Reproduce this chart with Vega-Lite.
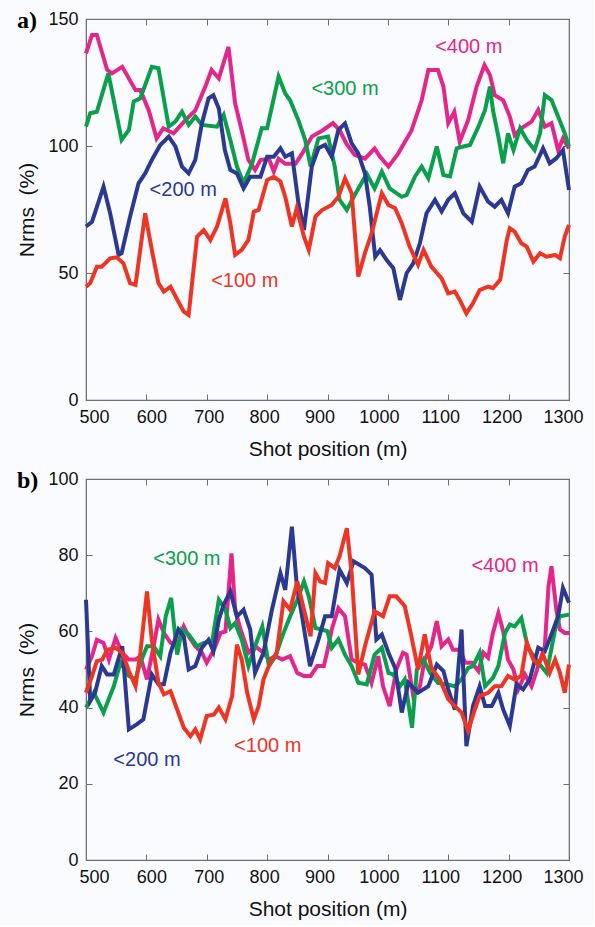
{
  "$schema": "https://vega.github.io/schema/vega-lite/v6.json",
  "background": "#fafbfe",
  "padding": {"left": 16, "top": 8, "right": 10, "bottom": 5},
  "config": {
    "view": {"stroke": "#707070", "strokeWidth": 1.2},
    "axis": {"grid": false, "labelFont": "Liberation Sans", "labelFontSize": 18, "labelColor": "#111111", "titleFont": "Liberation Sans", "titleFontSize": 21, "titleFontWeight": "normal", "titleColor": "#111111", "domainColor": "#707070", "tickColor": "#707070", "tickSize": -6, "labelPadding": 14, "labelOverlap": false, "labelFlush": false, "format": "d"},
    "text": {"font": "Liberation Sans", "fontSize": 20}
  },
  "datasets": {
    "a": [
      {"s":"<400 m","x":500,"y":136.5},{"s":"<400 m","x":510,"y":143.7},{"s":"<400 m","x":518,"y":143.7},{"s":"<400 m","x":535,"y":130},{"s":"<400 m","x":543,"y":128.6},{"s":"<400 m","x":560,"y":131.2},{"s":"<400 m","x":582,"y":122},{"s":"<400 m","x":590,"y":122},{"s":"<400 m","x":604,"y":114},{"s":"<400 m","x":617,"y":103},{"s":"<400 m","x":628,"y":107},{"s":"<400 m","x":645,"y":105},{"s":"<400 m","x":664,"y":110},{"s":"<400 m","x":681,"y":114},{"s":"<400 m","x":697,"y":123},{"s":"<400 m","x":708,"y":130},{"s":"<400 m","x":720,"y":126.6},{"s":"<400 m","x":736,"y":139},{"s":"<400 m","x":747,"y":116.8},{"s":"<400 m","x":758,"y":106},{"s":"<400 m","x":769,"y":94.5},{"s":"<400 m","x":780,"y":90.6},{"s":"<400 m","x":789,"y":94.5},{"s":"<400 m","x":803,"y":95},{"s":"<400 m","x":811,"y":90},{"s":"<400 m","x":819,"y":95},{"s":"<400 m","x":830,"y":93},{"s":"<400 m","x":847,"y":93},{"s":"<400 m","x":858,"y":97},{"s":"<400 m","x":874,"y":103.7},{"s":"<400 m","x":891,"y":106},{"s":"<400 m","x":909,"y":109},{"s":"<400 m","x":920,"y":106.3},{"s":"<400 m","x":931,"y":101},{"s":"<400 m","x":945,"y":96.5},{"s":"<400 m","x":962,"y":95},{"s":"<400 m","x":978,"y":99},{"s":"<400 m","x":987,"y":95.8},{"s":"<400 m","x":1001,"y":91.9},{"s":"<400 m","x":1017,"y":97},{"s":"<400 m","x":1039,"y":106},{"s":"<400 m","x":1056,"y":118},{"s":"<400 m","x":1067,"y":129.9},{"s":"<400 m","x":1083,"y":129.9},{"s":"<400 m","x":1092,"y":123.4},{"s":"<400 m","x":1100,"y":109},{"s":"<400 m","x":1110,"y":113.5},{"s":"<400 m","x":1119,"y":101.7},{"s":"<400 m","x":1133,"y":110.2},{"s":"<400 m","x":1147,"y":123.4},{"s":"<400 m","x":1160,"y":131.9},{"s":"<400 m","x":1169,"y":128},{"s":"<400 m","x":1177,"y":120},{"s":"<400 m","x":1191,"y":118},{"s":"<400 m","x":1202,"y":111.6},{"s":"<400 m","x":1210,"y":104.3},{"s":"<400 m","x":1221,"y":107},{"s":"<400 m","x":1238,"y":109.6},{"s":"<400 m","x":1249,"y":114.2},{"s":"<400 m","x":1260,"y":107.6},{"s":"<400 m","x":1271,"y":109},{"s":"<400 m","x":1282,"y":98.4},{"s":"<400 m","x":1290,"y":103},{"s":"<400 m","x":1300,"y":99},
      {"s":"<300 m","x":500,"y":107.6},{"s":"<300 m","x":507,"y":112.9},{"s":"<300 m","x":518,"y":113.5},{"s":"<300 m","x":537,"y":128.6},{"s":"<300 m","x":548,"y":115.5},{"s":"<300 m","x":559,"y":102.4},{"s":"<300 m","x":571,"y":106.3},{"s":"<300 m","x":579,"y":117.5},{"s":"<300 m","x":590,"y":118.8},{"s":"<300 m","x":609,"y":131.2},{"s":"<300 m","x":620,"y":130.6},{"s":"<300 m","x":637,"y":107.6},{"s":"<300 m","x":648,"y":109.6},{"s":"<300 m","x":659,"y":113.5},{"s":"<300 m","x":670,"y":108.3},{"s":"<300 m","x":681,"y":111.6},{"s":"<300 m","x":692,"y":108.3},{"s":"<300 m","x":717,"y":107.6},{"s":"<300 m","x":728,"y":112.2},{"s":"<300 m","x":739,"y":102.4},{"s":"<300 m","x":750,"y":91.9},{"s":"<300 m","x":761,"y":85.3},{"s":"<300 m","x":775,"y":93},{"s":"<300 m","x":791,"y":107},{"s":"<300 m","x":800,"y":107},{"s":"<300 m","x":819,"y":127.3},{"s":"<300 m","x":830,"y":120.7},{"s":"<300 m","x":838,"y":118},{"s":"<300 m","x":852,"y":110},{"s":"<300 m","x":863,"y":102.4},{"s":"<300 m","x":872,"y":92},{"s":"<300 m","x":885,"y":103},{"s":"<300 m","x":901,"y":103.7},{"s":"<300 m","x":912,"y":91.9},{"s":"<300 m","x":920,"y":78.8},{"s":"<300 m","x":932,"y":74.8},{"s":"<300 m","x":945,"y":80.7},{"s":"<300 m","x":965,"y":89},{"s":"<300 m","x":978,"y":83.3},{"s":"<300 m","x":990,"y":89.9},{"s":"<300 m","x":1003,"y":83.3},{"s":"<300 m","x":1023,"y":80},{"s":"<300 m","x":1031,"y":80.7},{"s":"<300 m","x":1045,"y":88},{"s":"<300 m","x":1056,"y":91.9},{"s":"<300 m","x":1067,"y":87.3},{"s":"<300 m","x":1081,"y":99.8},{"s":"<300 m","x":1092,"y":88.6},{"s":"<300 m","x":1103,"y":88},{"s":"<300 m","x":1114,"y":99.1},{"s":"<300 m","x":1125,"y":99.8},{"s":"<300 m","x":1136,"y":100.4},{"s":"<300 m","x":1150,"y":107.6},{"s":"<300 m","x":1161,"y":114.2},{"s":"<300 m","x":1169,"y":123.4},{"s":"<300 m","x":1174,"y":114.2},{"s":"<300 m","x":1183,"y":103.7},{"s":"<300 m","x":1191,"y":93.2},{"s":"<300 m","x":1199,"y":105},{"s":"<300 m","x":1208,"y":98.4},{"s":"<300 m","x":1219,"y":107},{"s":"<300 m","x":1230,"y":102.4},{"s":"<300 m","x":1243,"y":98.4},{"s":"<300 m","x":1252,"y":105},{"s":"<300 m","x":1260,"y":120},{"s":"<300 m","x":1271,"y":118.1},{"s":"<300 m","x":1282,"y":111.6},{"s":"<300 m","x":1293,"y":105},{"s":"<300 m","x":1300,"y":99.8},
      {"s":"<200 m","x":500,"y":68.3},{"s":"<200 m","x":510,"y":70.2},{"s":"<200 m","x":529,"y":84},{"s":"<200 m","x":540,"y":73.5},{"s":"<200 m","x":554,"y":57.1},{"s":"<200 m","x":559,"y":57.8},{"s":"<200 m","x":573,"y":72.2},{"s":"<200 m","x":587,"y":85.3},{"s":"<200 m","x":598,"y":89.2},{"s":"<200 m","x":609,"y":94.5},{"s":"<200 m","x":623,"y":100.4},{"s":"<200 m","x":637,"y":103.7},{"s":"<200 m","x":648,"y":99.8},{"s":"<200 m","x":659,"y":91.9},{"s":"<200 m","x":670,"y":89.2},{"s":"<200 m","x":681,"y":94.5},{"s":"<200 m","x":692,"y":108.9},{"s":"<200 m","x":703,"y":118.8},{"s":"<200 m","x":711,"y":120},{"s":"<200 m","x":720,"y":114.8},{"s":"<200 m","x":730,"y":98.4},{"s":"<200 m","x":739,"y":90.6},{"s":"<200 m","x":750,"y":89.2},{"s":"<200 m","x":761,"y":83.3},{"s":"<200 m","x":772,"y":87.9},{"s":"<200 m","x":789,"y":87.9},{"s":"<200 m","x":800,"y":95.8},{"s":"<200 m","x":811,"y":95.8},{"s":"<200 m","x":822,"y":99.1},{"s":"<200 m","x":830,"y":95.8},{"s":"<200 m","x":841,"y":97.1},{"s":"<200 m","x":852,"y":77.4},{"s":"<200 m","x":861,"y":66.9},{"s":"<200 m","x":874,"y":91.9},{"s":"<200 m","x":885,"y":99.1},{"s":"<200 m","x":896,"y":100.4},{"s":"<200 m","x":907,"y":95.8},{"s":"<200 m","x":918,"y":106.3},{"s":"<200 m","x":929,"y":108.9},{"s":"<200 m","x":940,"y":101},{"s":"<200 m","x":951,"y":97.1},{"s":"<200 m","x":962,"y":89.2},{"s":"<200 m","x":970,"y":76.1},{"s":"<200 m","x":979,"y":56.4},{"s":"<200 m","x":987,"y":59},{"s":"<200 m","x":998,"y":55.1},{"s":"<200 m","x":1009,"y":51.9},{"s":"<200 m","x":1020,"y":39.4},{"s":"<200 m","x":1031,"y":49.9},{"s":"<200 m","x":1042,"y":53.8},{"s":"<200 m","x":1053,"y":61.7},{"s":"<200 m","x":1064,"y":73.5},{"s":"<200 m","x":1078,"y":78.8},{"s":"<200 m","x":1089,"y":74.2},{"s":"<200 m","x":1100,"y":78.8},{"s":"<200 m","x":1111,"y":81.4},{"s":"<200 m","x":1125,"y":73.5},{"s":"<200 m","x":1139,"y":70.2},{"s":"<200 m","x":1152,"y":84},{"s":"<200 m","x":1166,"y":78.1},{"s":"<200 m","x":1177,"y":76.1},{"s":"<200 m","x":1188,"y":78.8},{"s":"<200 m","x":1199,"y":73.5},{"s":"<200 m","x":1210,"y":84},{"s":"<200 m","x":1221,"y":85.3},{"s":"<200 m","x":1232,"y":90.6},{"s":"<200 m","x":1243,"y":91.9},{"s":"<200 m","x":1257,"y":99.1},{"s":"<200 m","x":1268,"y":93.2},{"s":"<200 m","x":1279,"y":95.2},{"s":"<200 m","x":1290,"y":98.4},{"s":"<200 m","x":1300,"y":82.7},
      {"s":"<100 m","x":500,"y":44.6},{"s":"<100 m","x":507,"y":46},{"s":"<100 m","x":518,"y":52.5},{"s":"<100 m","x":526,"y":52.5},{"s":"<100 m","x":540,"y":55.8},{"s":"<100 m","x":551,"y":56.2},{"s":"<100 m","x":562,"y":53.8},{"s":"<100 m","x":573,"y":46},{"s":"<100 m","x":582,"y":45.3},{"s":"<100 m","x":598,"y":73.5},{"s":"<100 m","x":609,"y":59.1},{"s":"<100 m","x":620,"y":46},{"s":"<100 m","x":629,"y":42.7},{"s":"<100 m","x":640,"y":44.6},{"s":"<100 m","x":653,"y":38.7},{"s":"<100 m","x":662,"y":34.8},{"s":"<100 m","x":670,"y":33.5},{"s":"<100 m","x":684,"y":64.3},{"s":"<100 m","x":695,"y":66.9},{"s":"<100 m","x":706,"y":63},{"s":"<100 m","x":717,"y":68.3},{"s":"<100 m","x":731,"y":79.4},{"s":"<100 m","x":739,"y":69.6},{"s":"<100 m","x":747,"y":57.1},{"s":"<100 m","x":758,"y":59.1},{"s":"<100 m","x":769,"y":63},{"s":"<100 m","x":778,"y":74.2},{"s":"<100 m","x":786,"y":74.8},{"s":"<100 m","x":800,"y":86.6},{"s":"<100 m","x":811,"y":87.9},{"s":"<100 m","x":822,"y":86},{"s":"<100 m","x":830,"y":80},{"s":"<100 m","x":841,"y":68.3},{"s":"<100 m","x":849,"y":75.5},{"s":"<100 m","x":861,"y":64.3},{"s":"<100 m","x":869,"y":59.1},{"s":"<100 m","x":880,"y":72.2},{"s":"<100 m","x":891,"y":74.8},{"s":"<100 m","x":907,"y":76.8},{"s":"<100 m","x":918,"y":80},{"s":"<100 m","x":929,"y":87.3},{"s":"<100 m","x":940,"y":81.4},{"s":"<100 m","x":951,"y":48.6},{"s":"<100 m","x":962,"y":57.8},{"s":"<100 m","x":973,"y":65.6},{"s":"<100 m","x":990,"y":81.4},{"s":"<100 m","x":1001,"y":76.8},{"s":"<100 m","x":1012,"y":75.5},{"s":"<100 m","x":1023,"y":69.6},{"s":"<100 m","x":1036,"y":60.4},{"s":"<100 m","x":1050,"y":53.2},{"s":"<100 m","x":1059,"y":59.1},{"s":"<100 m","x":1072,"y":52.5},{"s":"<100 m","x":1089,"y":47.9},{"s":"<100 m","x":1100,"y":42},{"s":"<100 m","x":1111,"y":42.7},{"s":"<100 m","x":1119,"y":39.4},{"s":"<100 m","x":1130,"y":34.1},{"s":"<100 m","x":1141,"y":38.1},{"s":"<100 m","x":1152,"y":43.3},{"s":"<100 m","x":1166,"y":44.6},{"s":"<100 m","x":1174,"y":44},{"s":"<100 m","x":1186,"y":47.3},{"s":"<100 m","x":1197,"y":63},{"s":"<100 m","x":1202,"y":67.6},{"s":"<100 m","x":1210,"y":66.3},{"s":"<100 m","x":1221,"y":61.7},{"s":"<100 m","x":1230,"y":60.4},{"s":"<100 m","x":1241,"y":54.5},{"s":"<100 m","x":1252,"y":57.8},{"s":"<100 m","x":1263,"y":56.4},{"s":"<100 m","x":1277,"y":57.1},{"s":"<100 m","x":1285,"y":55.8},{"s":"<100 m","x":1293,"y":64.3},{"s":"<100 m","x":1300,"y":68.9}
    ],
    "b": [
      {"s":"<400 m","x":500,"y":50},{"s":"<400 m","x":510,"y":53.5},{"s":"<400 m","x":518,"y":57.8},{"s":"<400 m","x":529,"y":57},{"s":"<400 m","x":538,"y":52.6},{"s":"<400 m","x":549,"y":58.3},{"s":"<400 m","x":560,"y":54.4},{"s":"<400 m","x":571,"y":52.6},{"s":"<400 m","x":582,"y":52.6},{"s":"<400 m","x":590,"y":53.5},{"s":"<400 m","x":601,"y":47.4},{"s":"<400 m","x":612,"y":56.1},{"s":"<400 m","x":620,"y":63.1},{"s":"<400 m","x":629,"y":59.6},{"s":"<400 m","x":640,"y":57},{"s":"<400 m","x":651,"y":56.1},{"s":"<400 m","x":662,"y":61.3},{"s":"<400 m","x":670,"y":58.7},{"s":"<400 m","x":681,"y":56.1},{"s":"<400 m","x":692,"y":54.4},{"s":"<400 m","x":700,"y":51.8},{"s":"<400 m","x":712,"y":55.2},{"s":"<400 m","x":723,"y":59.6},{"s":"<400 m","x":731,"y":60},{"s":"<400 m","x":741,"y":80.5},{"s":"<400 m","x":747,"y":65.7},{"s":"<400 m","x":756,"y":60.5},{"s":"<400 m","x":769,"y":54.4},{"s":"<400 m","x":780,"y":56.1},{"s":"<400 m","x":794,"y":54.4},{"s":"<400 m","x":803,"y":52.6},{"s":"<400 m","x":814,"y":53.5},{"s":"<400 m","x":825,"y":52.6},{"s":"<400 m","x":838,"y":53.5},{"s":"<400 m","x":850,"y":49.1},{"s":"<400 m","x":861,"y":48.3},{"s":"<400 m","x":872,"y":48.3},{"s":"<400 m","x":883,"y":50.9},{"s":"<400 m","x":894,"y":50.9},{"s":"<400 m","x":900,"y":55},{"s":"<400 m","x":907,"y":60.5},{"s":"<400 m","x":918,"y":66.1},{"s":"<400 m","x":929,"y":64},{"s":"<400 m","x":940,"y":52.6},{"s":"<400 m","x":951,"y":51.8},{"s":"<400 m","x":962,"y":51.3},{"s":"<400 m","x":973,"y":46.5},{"s":"<400 m","x":984,"y":53.5},{"s":"<400 m","x":992,"y":45.6},{"s":"<400 m","x":1003,"y":40.4},{"s":"<400 m","x":1014,"y":50},{"s":"<400 m","x":1025,"y":54.4},{"s":"<400 m","x":1031,"y":53.9},{"s":"<400 m","x":1042,"y":43},{"s":"<400 m","x":1053,"y":45.6},{"s":"<400 m","x":1061,"y":52.6},{"s":"<400 m","x":1072,"y":56.1},{"s":"<400 m","x":1081,"y":62.7},{"s":"<400 m","x":1089,"y":56.1},{"s":"<400 m","x":1100,"y":57.9},{"s":"<400 m","x":1108,"y":55.2},{"s":"<400 m","x":1119,"y":55.2},{"s":"<400 m","x":1128,"y":51.8},{"s":"<400 m","x":1139,"y":51.8},{"s":"<400 m","x":1150,"y":49.6},{"s":"<400 m","x":1158,"y":54.4},{"s":"<400 m","x":1166,"y":53.1},{"s":"<400 m","x":1174,"y":59.6},{"s":"<400 m","x":1183,"y":64.8},{"s":"<400 m","x":1191,"y":60},{"s":"<400 m","x":1199,"y":52.6},{"s":"<400 m","x":1208,"y":50},{"s":"<400 m","x":1216,"y":44.8},{"s":"<400 m","x":1227,"y":48.7},{"s":"<400 m","x":1238,"y":45.6},{"s":"<400 m","x":1249,"y":50.9},{"s":"<400 m","x":1260,"y":56.1},{"s":"<400 m","x":1266,"y":71.8},{"s":"<400 m","x":1271,"y":77.1},{"s":"<400 m","x":1279,"y":65.7},{"s":"<400 m","x":1285,"y":60.5},{"s":"<400 m","x":1293,"y":59.6},{"s":"<400 m","x":1300,"y":59.6},
      {"s":"<300 m","x":500,"y":40},{"s":"<300 m","x":513,"y":43.9},{"s":"<300 m","x":529,"y":38.7},{"s":"<300 m","x":546,"y":45.6},{"s":"<300 m","x":557,"y":51.8},{"s":"<300 m","x":571,"y":48.3},{"s":"<300 m","x":582,"y":47.4},{"s":"<300 m","x":590,"y":51.8},{"s":"<300 m","x":601,"y":56.1},{"s":"<300 m","x":612,"y":56.1},{"s":"<300 m","x":623,"y":53.5},{"s":"<300 m","x":632,"y":63.9},{"s":"<300 m","x":641,"y":68.8},{"s":"<300 m","x":651,"y":53.9},{"s":"<300 m","x":659,"y":60.5},{"s":"<300 m","x":670,"y":59.2},{"s":"<300 m","x":684,"y":56.1},{"s":"<300 m","x":695,"y":57},{"s":"<300 m","x":709,"y":57.4},{"s":"<300 m","x":720,"y":68.3},{"s":"<300 m","x":731,"y":65.7},{"s":"<300 m","x":739,"y":60.9},{"s":"<300 m","x":747,"y":62.2},{"s":"<300 m","x":758,"y":57.8},{"s":"<300 m","x":769,"y":50.9},{"s":"<300 m","x":780,"y":56.1},{"s":"<300 m","x":792,"y":61.3},{"s":"<300 m","x":803,"y":50.9},{"s":"<300 m","x":814,"y":53.5},{"s":"<300 m","x":825,"y":58.7},{"s":"<300 m","x":838,"y":63.9},{"s":"<300 m","x":850,"y":68.3},{"s":"<300 m","x":861,"y":73.1},{"s":"<300 m","x":869,"y":69.2},{"s":"<300 m","x":880,"y":60.9},{"s":"<300 m","x":891,"y":60.5},{"s":"<300 m","x":900,"y":60},{"s":"<300 m","x":907,"y":55.7},{"s":"<300 m","x":918,"y":57.9},{"s":"<300 m","x":929,"y":53.9},{"s":"<300 m","x":940,"y":50.9},{"s":"<300 m","x":951,"y":46.5},{"s":"<300 m","x":965,"y":46.1},{"s":"<300 m","x":978,"y":53.9},{"s":"<300 m","x":990,"y":55.7},{"s":"<300 m","x":1001,"y":49.1},{"s":"<300 m","x":1009,"y":48.7},{"s":"<300 m","x":1020,"y":45.6},{"s":"<300 m","x":1028,"y":47.4},{"s":"<300 m","x":1040,"y":34.7},{"s":"<300 m","x":1048,"y":50},{"s":"<300 m","x":1059,"y":52.6},{"s":"<300 m","x":1070,"y":49.1},{"s":"<300 m","x":1083,"y":46.5},{"s":"<300 m","x":1097,"y":46.1},{"s":"<300 m","x":1111,"y":45.6},{"s":"<300 m","x":1122,"y":47.4},{"s":"<300 m","x":1133,"y":50.4},{"s":"<300 m","x":1141,"y":50.9},{"s":"<300 m","x":1152,"y":54.4},{"s":"<300 m","x":1161,"y":45.6},{"s":"<300 m","x":1174,"y":47.8},{"s":"<300 m","x":1183,"y":50.9},{"s":"<300 m","x":1194,"y":59.6},{"s":"<300 m","x":1202,"y":61.8},{"s":"<300 m","x":1210,"y":61.3},{"s":"<300 m","x":1221,"y":63.5},{"s":"<300 m","x":1232,"y":55.7},{"s":"<300 m","x":1249,"y":51.8},{"s":"<300 m","x":1263,"y":49.1},{"s":"<300 m","x":1277,"y":60.5},{"s":"<300 m","x":1285,"y":64},{"s":"<300 m","x":1300,"y":64.4},
      {"s":"<200 m","x":500,"y":68.3},{"s":"<200 m","x":507,"y":41.7},{"s":"<200 m","x":515,"y":43.9},{"s":"<200 m","x":526,"y":50.9},{"s":"<200 m","x":535,"y":48.7},{"s":"<200 m","x":546,"y":48.7},{"s":"<200 m","x":560,"y":56.1},{"s":"<200 m","x":571,"y":34.3},{"s":"<200 m","x":584,"y":35.6},{"s":"<200 m","x":595,"y":36.9},{"s":"<200 m","x":609,"y":48.7},{"s":"<200 m","x":620,"y":46.1},{"s":"<200 m","x":629,"y":46.1},{"s":"<200 m","x":640,"y":54.4},{"s":"<200 m","x":653,"y":60.5},{"s":"<200 m","x":662,"y":58.7},{"s":"<200 m","x":670,"y":50},{"s":"<200 m","x":681,"y":50.9},{"s":"<200 m","x":692,"y":55.7},{"s":"<200 m","x":703,"y":57.8},{"s":"<200 m","x":711,"y":54.8},{"s":"<200 m","x":720,"y":63.1},{"s":"<200 m","x":728,"y":67},{"s":"<200 m","x":739,"y":70.5},{"s":"<200 m","x":750,"y":63.9},{"s":"<200 m","x":761,"y":65.7},{"s":"<200 m","x":772,"y":60.5},{"s":"<200 m","x":780,"y":49.1},{"s":"<200 m","x":794,"y":54.4},{"s":"<200 m","x":808,"y":65.7},{"s":"<200 m","x":822,"y":75.3},{"s":"<200 m","x":830,"y":70.9},{"s":"<200 m","x":841,"y":87.5},{"s":"<200 m","x":849,"y":72.3},{"s":"<200 m","x":858,"y":63.9},{"s":"<200 m","x":871,"y":50.9},{"s":"<200 m","x":885,"y":57.8},{"s":"<200 m","x":896,"y":64},{"s":"<200 m","x":907,"y":64},{"s":"<200 m","x":920,"y":76.2},{"s":"<200 m","x":932,"y":72.7},{"s":"<200 m","x":943,"y":78.4},{"s":"<200 m","x":962,"y":76.6},{"s":"<200 m","x":973,"y":74.9},{"s":"<200 m","x":981,"y":57.9},{"s":"<200 m","x":990,"y":59.2},{"s":"<200 m","x":1001,"y":54.4},{"s":"<200 m","x":1012,"y":50.4},{"s":"<200 m","x":1023,"y":38.7},{"s":"<200 m","x":1034,"y":46.5},{"s":"<200 m","x":1050,"y":43.9},{"s":"<200 m","x":1067,"y":45.6},{"s":"<200 m","x":1081,"y":51.3},{"s":"<200 m","x":1092,"y":49.6},{"s":"<200 m","x":1100,"y":44.8},{"s":"<200 m","x":1111,"y":39.5},{"s":"<200 m","x":1122,"y":60.5},{"s":"<200 m","x":1130,"y":29.9},{"s":"<200 m","x":1141,"y":40.4},{"s":"<200 m","x":1152,"y":45.6},{"s":"<200 m","x":1161,"y":40.4},{"s":"<200 m","x":1172,"y":40.4},{"s":"<200 m","x":1183,"y":43.9},{"s":"<200 m","x":1191,"y":39.5},{"s":"<200 m","x":1202,"y":35.2},{"s":"<200 m","x":1213,"y":46.1},{"s":"<200 m","x":1224,"y":44.8},{"s":"<200 m","x":1235,"y":47.4},{"s":"<200 m","x":1249,"y":55.7},{"s":"<200 m","x":1260,"y":54.8},{"s":"<200 m","x":1274,"y":60.5},{"s":"<200 m","x":1282,"y":64},{"s":"<200 m","x":1290,"y":71.4},{"s":"<200 m","x":1300,"y":67.5},
      {"s":"<100 m","x":500,"y":43.9},{"s":"<100 m","x":510,"y":48.3},{"s":"<100 m","x":518,"y":52.2},{"s":"<100 m","x":527,"y":52.6},{"s":"<100 m","x":535,"y":55.2},{"s":"<100 m","x":549,"y":55.7},{"s":"<100 m","x":560,"y":54.4},{"s":"<100 m","x":571,"y":49.6},{"s":"<100 m","x":582,"y":45.6},{"s":"<100 m","x":590,"y":54.4},{"s":"<100 m","x":601,"y":70.5},{"s":"<100 m","x":609,"y":57.8},{"s":"<100 m","x":620,"y":46.5},{"s":"<100 m","x":629,"y":43.5},{"s":"<100 m","x":640,"y":44.3},{"s":"<100 m","x":651,"y":39.5},{"s":"<100 m","x":662,"y":34.7},{"s":"<100 m","x":673,"y":32.5},{"s":"<100 m","x":681,"y":34.3},{"s":"<100 m","x":689,"y":31.7},{"s":"<100 m","x":700,"y":37.8},{"s":"<100 m","x":712,"y":38.2},{"s":"<100 m","x":720,"y":40},{"s":"<100 m","x":731,"y":36.9},{"s":"<100 m","x":742,"y":43},{"s":"<100 m","x":750,"y":56.5},{"s":"<100 m","x":758,"y":52.6},{"s":"<100 m","x":767,"y":43.9},{"s":"<100 m","x":778,"y":36.9},{"s":"<100 m","x":786,"y":40.4},{"s":"<100 m","x":794,"y":47.4},{"s":"<100 m","x":805,"y":51.8},{"s":"<100 m","x":816,"y":54.4},{"s":"<100 m","x":827,"y":67.9},{"s":"<100 m","x":838,"y":65.7},{"s":"<100 m","x":850,"y":73.1},{"s":"<100 m","x":861,"y":65.7},{"s":"<100 m","x":872,"y":58.7},{"s":"<100 m","x":880,"y":75.3},{"s":"<100 m","x":888,"y":73.1},{"s":"<100 m","x":896,"y":72.7},{"s":"<100 m","x":901,"y":77.9},{"s":"<100 m","x":912,"y":76.6},{"s":"<100 m","x":920,"y":79.7},{"s":"<100 m","x":932,"y":87.1},{"s":"<100 m","x":940,"y":75.3},{"s":"<100 m","x":951,"y":48.7},{"s":"<100 m","x":962,"y":56.1},{"s":"<100 m","x":978,"y":65.3},{"s":"<100 m","x":992,"y":64},{"s":"<100 m","x":1003,"y":69.2},{"s":"<100 m","x":1014,"y":69.2},{"s":"<100 m","x":1028,"y":66.6},{"s":"<100 m","x":1039,"y":58.7},{"s":"<100 m","x":1050,"y":50},{"s":"<100 m","x":1061,"y":59.2},{"s":"<100 m","x":1072,"y":50.4},{"s":"<100 m","x":1086,"y":47.4},{"s":"<100 m","x":1100,"y":42.2},{"s":"<100 m","x":1111,"y":40.4},{"s":"<100 m","x":1122,"y":38.7},{"s":"<100 m","x":1133,"y":33.9},{"s":"<100 m","x":1144,"y":39.5},{"s":"<100 m","x":1152,"y":43},{"s":"<100 m","x":1166,"y":43.9},{"s":"<100 m","x":1177,"y":45.6},{"s":"<100 m","x":1188,"y":45.6},{"s":"<100 m","x":1199,"y":48.3},{"s":"<100 m","x":1210,"y":47.4},{"s":"<100 m","x":1221,"y":48.3},{"s":"<100 m","x":1230,"y":57},{"s":"<100 m","x":1241,"y":52.6},{"s":"<100 m","x":1249,"y":51.3},{"s":"<100 m","x":1257,"y":53.9},{"s":"<100 m","x":1268,"y":49.1},{"s":"<100 m","x":1277,"y":52.6},{"s":"<100 m","x":1285,"y":49.1},{"s":"<100 m","x":1293,"y":43.9},{"s":"<100 m","x":1300,"y":51.3}
    ],
    "la": [
      {"s":"<400 m","x":1134,"y":139},
      {"s":"<300 m","x":929,"y":122.4},
      {"s":"<200 m","x":661,"y":82.7},
      {"s":"<100 m","x":763,"y":46.8}
    ],
    "lb": [
      {"s":"<400 m","x":1194,"y":77.2},
      {"s":"<300 m","x":667,"y":79.1},
      {"s":"<200 m","x":601,"y":26.2},
      {"s":"<100 m","x":801,"y":29.8}
    ]
  },
  "spacing": 8,
  "vconcat": [
    {
      "title": {"text": "a)", "anchor": "start", "frame": "bounds", "font": "Liberation Serif", "fontWeight": "bold", "fontSize": 24, "offset": -23, "color": "#000000"},
      "width": 483,
      "height": 381,
      "layer": [
        {
          "data": {"name": "a"},
          "mark": {"type": "line", "strokeWidth": 4},
          "encoding": {
            "x": {"field": "x", "type": "quantitative", "scale": {"domain": [500, 1300], "nice": false}, "axis": {"values": [500, 600, 700, 800, 900, 1000, 1100, 1200, 1300], "title": "Shot position (m)", "titlePadding": 12, "labelOffset": {"condition": [{"test": "datum.value == 500", "value": 8}, {"test": "datum.value == 600", "value": 5}, {"test": "datum.value == 700", "value": 2}, {"test": "datum.value == 800", "value": -3}, {"test": "datum.value == 900", "value": -8}, {"test": "datum.value == 1000", "value": -9}, {"test": "datum.value == 1100", "value": -8}, {"test": "datum.value == 1200", "value": -7}], "value": -6}}},
            "y": {"field": "y", "type": "quantitative", "scale": {"domain": [0, 150], "nice": false}, "axis": {"values": [0, 50, 100, 150], "title": "Nrms\u00a0\u00a0(%)", "titlePadding": 10}},
            "color": {"field": "s", "type": "nominal", "scale": {"domain": ["<100 m", "<200 m", "<300 m", "<400 m"], "range": ["#ee3524", "#2b3990", "#0a9f4b", "#e4268c"]}, "legend": null}
          }
        },
        {
          "data": {"name": "la"},
          "mark": {"type": "text", "fontSize": 20},
          "encoding": {
            "x": {"field": "x", "type": "quantitative", "axis": {"orient": "top", "labels": false, "title": null, "values": [500, 600, 700, 800, 900, 1000, 1100, 1200, 1300]}},
            "y": {"field": "y", "type": "quantitative", "axis": {"orient": "right", "labels": false, "title": null, "values": [0, 50, 100, 150]}},
            "text": {"field": "s"},
            "color": {"field": "s", "type": "nominal", "legend": null}
          }
        }
      ],
      "resolve": {"axis": {"x": "independent", "y": "independent"}}
    },
    {
      "title": {"text": "b)", "anchor": "start", "frame": "bounds", "font": "Liberation Serif", "fontWeight": "bold", "fontSize": 24, "offset": -23, "color": "#000000"},
      "width": 483,
      "height": 381,
      "layer": [
        {
          "data": {"name": "b"},
          "mark": {"type": "line", "strokeWidth": 4},
          "encoding": {
            "x": {"field": "x", "type": "quantitative", "scale": {"domain": [500, 1300], "nice": false}, "axis": {"values": [500, 600, 700, 800, 900, 1000, 1100, 1200, 1300], "title": "Shot position (m)", "titlePadding": 12, "labelOffset": {"condition": [{"test": "datum.value == 500", "value": 8}, {"test": "datum.value == 600", "value": 5}, {"test": "datum.value == 700", "value": 2}, {"test": "datum.value == 800", "value": -3}, {"test": "datum.value == 900", "value": -8}, {"test": "datum.value == 1000", "value": -9}, {"test": "datum.value == 1100", "value": -8}, {"test": "datum.value == 1200", "value": -7}], "value": -6}}},
            "y": {"field": "y", "type": "quantitative", "scale": {"domain": [0, 100], "nice": false}, "axis": {"values": [0, 20, 40, 60, 80, 100], "title": "Nrms\u00a0\u00a0(%)", "titlePadding": 10}},
            "color": {"field": "s", "type": "nominal", "scale": {"domain": ["<100 m", "<200 m", "<300 m", "<400 m"], "range": ["#ee3524", "#2b3990", "#0a9f4b", "#e4268c"]}, "legend": null}
          }
        },
        {
          "data": {"name": "lb"},
          "mark": {"type": "text", "fontSize": 20},
          "encoding": {
            "x": {"field": "x", "type": "quantitative", "axis": {"orient": "top", "labels": false, "title": null, "values": [500, 600, 700, 800, 900, 1000, 1100, 1200, 1300]}},
            "y": {"field": "y", "type": "quantitative", "axis": {"orient": "right", "labels": false, "title": null, "values": [0, 20, 40, 60, 80, 100]}},
            "text": {"field": "s"},
            "color": {"field": "s", "type": "nominal", "legend": null}
          }
        }
      ],
      "resolve": {"axis": {"x": "independent", "y": "independent"}}
    }
  ]
}
